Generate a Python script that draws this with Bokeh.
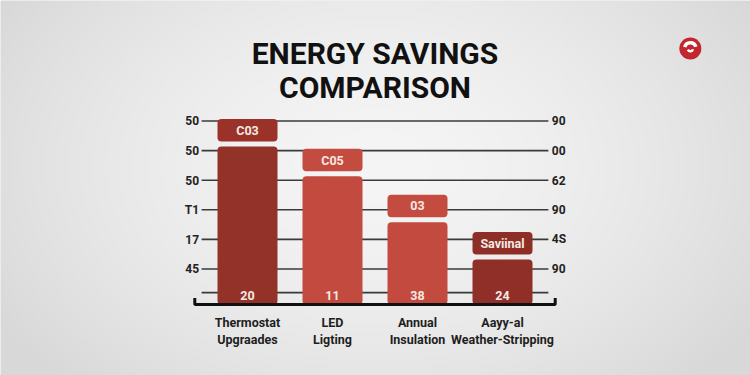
import numpy as np
from bokeh.plotting import figure
from bokeh.models import ColumnDataSource, Range1d
from bokeh.core.properties import value
from bokeh.embed import file_html
from bokeh.resources import INLINE

# ---- data ----
categories = ["Thermostat\nUpgraades", "LED\nLigting", "Annual\nInsulation", "Aayy-al\nWeather-Stripping"]
savings = [53.4, 43.3, 27.8, 15.2]
top_labels = ["C03", "C05", "03", "Saviinal"]
bottom_labels = ["20", "11", "38", "24"]
bar_colors = ["#923229", "#c24a3e", "#c24a3e", "#8f2f28"]
box_colors = ["#9a3229", "#c44b3f", "#c44b3f", "#8d2e27"]
grid_values = [62, 52, 42, 32, 22, 12]
left_ticks = ["50", "50", "50", "T1", "17", "45"]
right_ticks = ["90", "00", "62", "90", "4S", "90"]
minor_line = 4
title_lines = ["ENERGY SAVINGS", "COMPARISON"]

FONT = "Roboto"
W, H = 750, 375
PX_X = 85.0   # px per category
PX_Y = 2.96   # px per unit
x0 = -247 / PX_X
y0 = -71 / PX_Y
x1 = x0 + W / PX_X
y1 = y0 + H / PX_Y

p = figure(width=W, height=H, output_backend="svg", toolbar_location=None,
           x_range=Range1d(x0, x1), y_range=Range1d(y0, y1),
           min_border=0)
p.axis.visible = False
p.grid.visible = False
p.outline_line_color = None
p.background_fill_color = "#e8e8e8"
p.border_fill_color = "#e8e8e8"

# soft radial background shading (style only)
gy, gx = np.mgrid[0:94, 0:188]
d = np.sqrt(((gx - 94) / 110.0) ** 2 + ((gy - 52) / 75.0) ** 2)
g = np.clip(245 - 28 * d ** 1.6, 216, 245).astype(np.uint8)
img = np.zeros((94, 188), dtype=np.uint32)
view = img.view(dtype=np.uint8).reshape((94, 188, 4))
view[:, :, 0] = g
view[:, :, 1] = g
view[:, :, 2] = g
view[:, :, 3] = 255
p.image_rgba(image=[img], x=x0, y=y0, dw=x1 - x0, dh=y1 - y0)

n = len(categories)
xs = list(range(n))
bw = 60 / PX_X
gl, gr = -0.54, n - 1 + 0.54
mid = (n - 1) / 2

# gridlines
p.segment(x0=[gl] * len(grid_values), x1=[gr] * len(grid_values), y0=grid_values, y1=grid_values,
          line_color="#3a3a3a", line_width=1.6)
p.segment(x0=[gl], x1=[gr], y0=[minor_line], y1=[minor_line], line_color="#3a3a3a", line_width=1.6)

# bars
src = ColumnDataSource(dict(x=xs, top=savings, half=[v / 2 for v in savings],
                            color=bar_colors, box=box_colors,
                            boxy=[v + 1.7 + 3.8 for v in savings],
                            top_lab=top_labels, bot_lab=bottom_labels,
                            cat=categories))
p.rect(x="x", y="half", width=bw, height="top", fill_color="color", line_color=None,
       border_radius=4, source=src)
p.rect(x="x", y="boxy", width=bw, height=7.6, fill_color="box", line_color=None,
       border_radius=4, source=src)
p.text(x="x", y="boxy", text="top_lab", text_align="center", text_baseline="middle",
       text_font=value(FONT), text_font_style="bold", text_font_size="12.5px",
       text_color="#f6e9e4", source=src)
p.text(x="x", y=3.0, text="bot_lab", text_align="center", text_baseline="middle",
       text_font=value(FONT), text_font_style="bold", text_font_size="12.5px",
       text_color="#f6e9e4", source=src)

# baseline bracket
bl, br = -0.62, n - 1 + 0.62
p.line(x=[bl, bl, br, br], y=[2.2, 0, 0, 2.2], line_color="#111111", line_width=3)

# tick labels
p.text(x=[gl - 0.03] * len(grid_values), y=grid_values, text=left_ticks, text_align="right",
       text_baseline="middle", text_font=value(FONT), text_font_style="bold",
       text_font_size="12px", text_color="#222222")
p.text(x=[gr + 0.04] * len(grid_values), y=grid_values, text=right_ticks, text_align="left",
       text_baseline="middle", text_font=value(FONT), text_font_style="bold",
       text_font_size="12px", text_color="#222222")

# category labels
p.text(x="x", y=-3.6, text="cat", text_align="center", text_baseline="top",
       text_font=value(FONT), text_font_style="bold", text_font_size="12.5px",
       text_color="#1e1e1e", text_line_height=1.15, source=src)

# title
p.text(x=[mid, mid], y=[84.8, 73.3], text=title_lines, text_align="center",
       text_baseline="middle", text_font=value(FONT), text_font_style="bold",
       text_font_size="30px", text_color="#111111")

# logo
lx, ly = 5.21, 86.5
p.scatter(x=[lx], y=[ly], size=22, marker="circle", fill_color="#c1272d", line_color=None)
p.annular_wedge(x=[lx], y=[ly], inner_radius=4, outer_radius=7.5, inner_radius_units="screen",
                outer_radius_units="screen", start_angle=0.3, end_angle=2.9,
                fill_color="white", line_color=None)
p.annular_wedge(x=[lx], y=[ly], inner_radius=1.5, outer_radius=4, inner_radius_units="screen",
                outer_radius_units="screen", start_angle=3.6, end_angle=6.0,
                fill_color="white", line_color=None)

open("out.html", "w").write(file_html(p, INLINE))
